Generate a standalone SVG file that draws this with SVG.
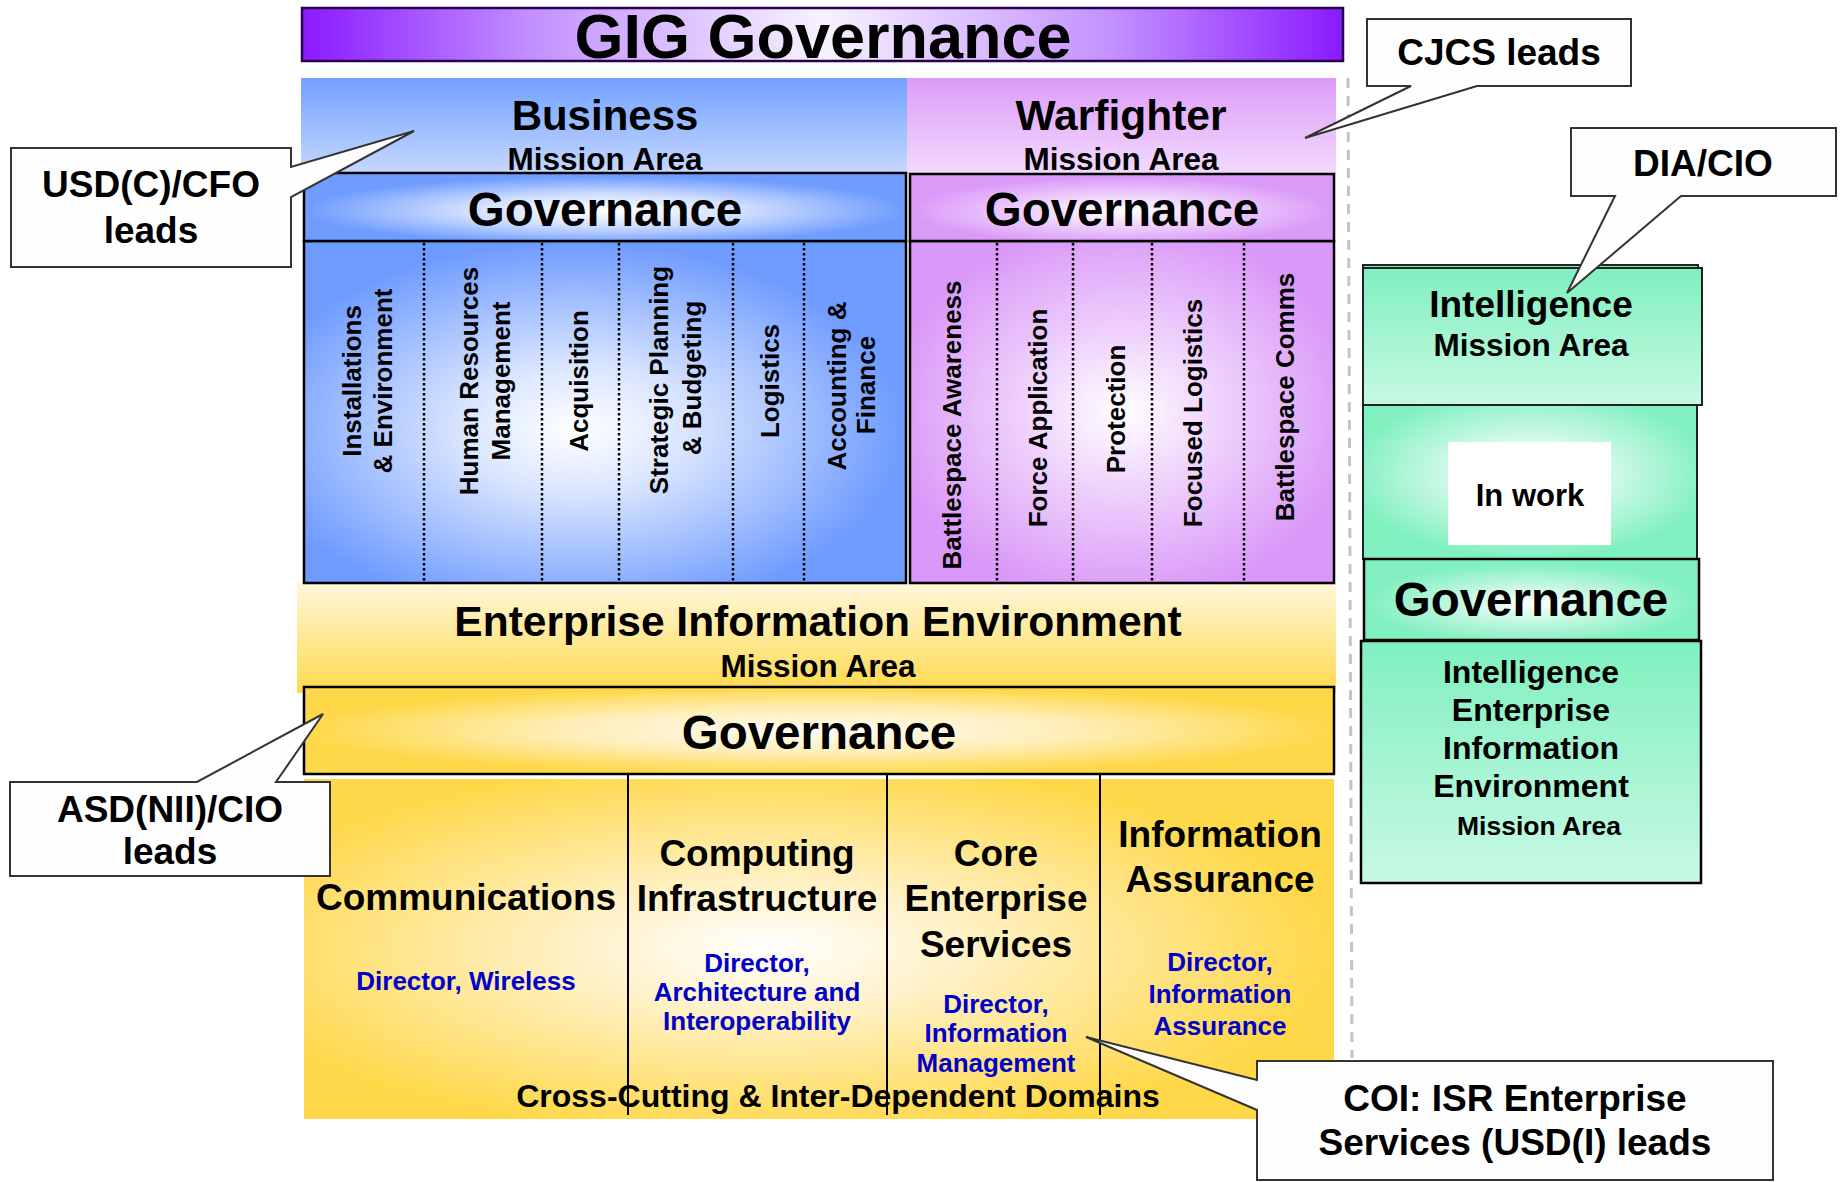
<svg xmlns="http://www.w3.org/2000/svg" width="1843" height="1182" viewBox="0 0 1843 1182">
<defs>
<style>
.t{font-family:"Liberation Sans",Arial,sans-serif;font-weight:bold;text-anchor:middle;fill:#000}
.col{font-family:"Liberation Sans",Arial,sans-serif;font-weight:bold;text-anchor:middle;fill:#000;font-size:26px;dominant-baseline:central}
.blue{fill:#0000c8;font-size:26px}
.box{stroke:#000;stroke-width:2.5}
.dot{stroke:#000;stroke-width:2.5;stroke-dasharray:2.5 2.5;fill:none}
.vline{stroke:#000;stroke-width:2;fill:none}
.callout{fill:#fefefe;stroke:#333;stroke-width:2}
</style>
<linearGradient id="gig" x1="0" y1="0" x2="1" y2="0">
<stop offset="0" stop-color="#8a1aff"/><stop offset="0.22" stop-color="#c290ff"/><stop offset="0.5" stop-color="#f7f2ff"/><stop offset="0.78" stop-color="#c290ff"/><stop offset="1" stop-color="#8a1aff"/>
</linearGradient>
<linearGradient id="bizMA" x1="0" y1="0" x2="0" y2="1"><stop offset="0" stop-color="#72a0ff"/><stop offset="1" stop-color="#c6d9ff"/></linearGradient>
<linearGradient id="wfMA" x1="0" y1="0" x2="0" y2="1"><stop offset="0" stop-color="#dc9cf9"/><stop offset="1" stop-color="#f3dafd"/></linearGradient>
<radialGradient id="bizGov" cx="0.5" cy="0.55" r="0.5"><stop offset="0" stop-color="#ffffff"/><stop offset="0.45" stop-color="#d2e0ff"/><stop offset="1" stop-color="#6f9cff"/></radialGradient>
<radialGradient id="bizCols" cx="0.45" cy="0.55" r="0.55"><stop offset="0" stop-color="#ffffff"/><stop offset="0.35" stop-color="#d8e4ff"/><stop offset="1" stop-color="#6e9bff"/></radialGradient>
<radialGradient id="wfGov" cx="0.5" cy="0.55" r="0.5"><stop offset="0" stop-color="#ffffff"/><stop offset="0.45" stop-color="#efd2fc"/><stop offset="1" stop-color="#da9af8"/></radialGradient>
<radialGradient id="wfCols" cx="0.5" cy="0.5" r="0.55"><stop offset="0" stop-color="#ffffff"/><stop offset="0.35" stop-color="#f1d9fc"/><stop offset="1" stop-color="#da98f8"/></radialGradient>
<linearGradient id="eieMA" x1="0" y1="0" x2="0" y2="1"><stop offset="0" stop-color="#fff7dc"/><stop offset="1" stop-color="#ffd94c"/></linearGradient>
<radialGradient id="eieGov" cx="0.5" cy="0.5" r="0.5"><stop offset="0" stop-color="#fffcf4"/><stop offset="0.5" stop-color="#ffeeb8"/><stop offset="1" stop-color="#ffd84a"/></radialGradient>
<radialGradient id="dom" cx="0.45" cy="0.5" r="0.55"><stop offset="0" stop-color="#ffffff"/><stop offset="0.35" stop-color="#fff1c6"/><stop offset="1" stop-color="#ffd84a"/></radialGradient>
<linearGradient id="intMA" x1="0" y1="0" x2="0" y2="1"><stop offset="0" stop-color="#7ff0c0"/><stop offset="1" stop-color="#c8f9e2"/></linearGradient>
<radialGradient id="inwork" cx="0.5" cy="0.45" r="0.55"><stop offset="0" stop-color="#ffffff"/><stop offset="0.4" stop-color="#d6faea"/><stop offset="1" stop-color="#80f0c0"/></radialGradient>
<radialGradient id="intGov" cx="0.5" cy="0.55" r="0.5"><stop offset="0" stop-color="#ffffff"/><stop offset="0.45" stop-color="#c4f7e0"/><stop offset="1" stop-color="#80f0c0"/></radialGradient>
<linearGradient id="ieie" x1="0" y1="0" x2="0" y2="1"><stop offset="0" stop-color="#80f0c0"/><stop offset="1" stop-color="#c8f9e3"/></linearGradient>
</defs>
<rect width="1843" height="1182" fill="#fff"/>

<g id="gig-governance">
<rect x="302" y="8" width="1041" height="53" fill="url(#gig)" stroke="#2a0050" stroke-width="2.5"/>
<text class="t" x="823" y="58" font-size="63">GIG Governance</text>
</g>

<g id="business-mission-area">
<rect x="301" y="78" width="606" height="96" fill="url(#bizMA)"/>
<text class="t" x="605" y="130" font-size="42">Business</text>
<text class="t" x="605" y="170" font-size="31.5">Mission Area</text>
</g>

<g id="warfighter-mission-area">
<rect x="907" y="78" width="429" height="96" fill="url(#wfMA)"/>
<text class="t" x="1121" y="130" font-size="42.5">Warfighter</text>
<text class="t" x="1121" y="170" font-size="31.5">Mission Area</text>
</g>

<g id="enterprise-information-environment">
<rect x="297" y="583" width="1039" height="110" fill="url(#eieMA)"/>
<text class="t" x="818" y="636" font-size="42.5">Enterprise Information Environment</text>
<text class="t" x="818" y="677" font-size="31.5">Mission Area</text>
</g>

<g id="business-governance">
<rect x="304" y="241" width="602" height="342" fill="url(#bizCols)" class="box"/>
<rect x="304" y="173" width="602" height="68" fill="url(#bizGov)" class="box"/>
<text class="t" x="605" y="226" font-size="47.5">Governance</text>
<g class="dots">
<line class="dot" x1="424" y1="243" x2="424" y2="583"/>
<line class="dot" x1="542" y1="243" x2="542" y2="583"/>
<line class="dot" x1="619" y1="243" x2="619" y2="583"/>
<line class="dot" x1="733" y1="243" x2="733" y2="583"/>
<line class="dot" x1="804" y1="243" x2="804" y2="583"/>
</g>
<text class="col" transform="translate(352,381) rotate(-90)">Installations</text>
<text class="col" transform="translate(383,381) rotate(-90)">&amp; Environment</text>
<text class="col" transform="translate(469,381) rotate(-90)">Human Resources</text>
<text class="col" transform="translate(501,381) rotate(-90)">Management</text>
<text class="col" transform="translate(579,381) rotate(-90)">Acquisition</text>
<text class="col" transform="translate(659,380) rotate(-90)">Strategic Planning</text>
<text class="col" transform="translate(692,378) rotate(-90)">&amp; Budgeting</text>
<text class="col" transform="translate(770,381) rotate(-90)">Logistics</text>
<text class="col" transform="translate(837,386) rotate(-90)">Accounting &amp;</text>
<text class="col" transform="translate(866,385) rotate(-90)">Finance</text>
</g>

<g id="warfighter-governance">
<rect x="910" y="241" width="424" height="342" fill="url(#wfCols)" class="box"/>
<rect x="910" y="174" width="424" height="67" fill="url(#wfGov)" class="box"/>
<text class="t" x="1122" y="226" font-size="47.5">Governance</text>
<line class="dot" x1="997" y1="243" x2="997" y2="583"/>
<line class="dot" x1="1073" y1="243" x2="1073" y2="583"/>
<line class="dot" x1="1152" y1="243" x2="1152" y2="583"/>
<line class="dot" x1="1244" y1="243" x2="1244" y2="583"/>
<text class="col" transform="translate(952,425) rotate(-90)">Battlespace Awareness</text>
<text class="col" transform="translate(1038,418) rotate(-90)">Force Application</text>
<text class="col" transform="translate(1116,409) rotate(-90)">Protection</text>
<text class="col" transform="translate(1193,413) rotate(-90)">Focused Logistics</text>
<text class="col" transform="translate(1285,397) rotate(-90)">Battlespace Comms</text>
</g>

<g id="eie-governance">
<rect x="304" y="687" width="1030" height="87" fill="url(#eieGov)" class="box"/>
<text class="t" x="819" y="749" font-size="47.5">Governance</text>
</g>

<g id="cross-cutting-domains">
<rect x="304" y="779" width="1030" height="340" fill="url(#dom)"/>
<line class="vline" x1="628" y1="774" x2="628" y2="1115"/>
<line class="vline" x1="887" y1="774" x2="887" y2="1115"/>
<line class="vline" x1="1100" y1="774" x2="1100" y2="1115"/>
<text class="t" x="466" y="910" font-size="37">Communications</text>
<text class="t blue" x="466" y="990">Director, Wireless</text>
<text class="t" x="757" y="866" font-size="37">Computing</text>
<text class="t" x="757" y="911" font-size="37">Infrastructure</text>
<text class="t blue" x="757" y="972">Director,</text>
<text class="t blue" x="757" y="1001">Architecture and</text>
<text class="t blue" x="757" y="1030">Interoperability</text>
<text class="t" x="996" y="866" font-size="37">Core</text>
<text class="t" x="996" y="911" font-size="37">Enterprise</text>
<text class="t" x="996" y="957" font-size="37">Services</text>
<text class="t blue" x="996" y="1013">Director,</text>
<text class="t blue" x="996" y="1042">Information</text>
<text class="t blue" x="996" y="1072">Management</text>
<text class="t" x="1220" y="847" font-size="37">Information</text>
<text class="t" x="1220" y="892" font-size="37">Assurance</text>
<text class="t blue" x="1220" y="971">Director,</text>
<text class="t blue" x="1220" y="1003">Information</text>
<text class="t blue" x="1220" y="1035">Assurance</text>
<text class="t" x="838" y="1107" font-size="32">Cross-Cutting &amp; Inter-Dependent Domains</text>
</g>

<g id="separator">
<line x1="1348" y1="78" x2="1352" y2="1058" stroke="#c4c4c4" stroke-width="3" stroke-dasharray="10 8"/>
</g>

<g id="intelligence-mission-area">
<rect x="1363" y="265" width="335" height="140" fill="#80f0c0" stroke="#222" stroke-width="2"/>
<rect x="1363" y="268" width="339" height="137" fill="url(#intMA)" stroke="#222" stroke-width="2"/>
<text class="t" x="1531" y="317" font-size="37">Intelligence</text>
<text class="t" x="1531" y="356" font-size="31.5">Mission Area</text>
</g>

<g id="intelligence-in-work">
<rect x="1363" y="405" width="334" height="154" fill="url(#inwork)" stroke="#222" stroke-width="2"/>
<rect x="1448" y="442" width="163" height="103" fill="#fff"/>
<text class="t" x="1530" y="506" font-size="31">In work</text>
</g>

<g id="intelligence-governance">
<rect x="1364" y="559" width="335" height="81" fill="url(#intGov)" class="box"/>
<text class="t" x="1531" y="616" font-size="47.5">Governance</text>
</g>

<g id="intelligence-eie">
<rect x="1361" y="641" width="340" height="242" fill="url(#ieie)" class="box"/>
<text class="t" x="1531" y="683" font-size="32">Intelligence</text>
<text class="t" x="1531" y="721" font-size="32">Enterprise</text>
<text class="t" x="1531" y="759" font-size="32">Information</text>
<text class="t" x="1531" y="797" font-size="32">Environment</text>
<text class="t" x="1539" y="835" font-size="26.5">Mission Area</text>
</g>

<g id="connectors"></g>

<g id="callout-usd">
<path class="callout" d="M11,148 H291 V167 L414,131 L291,197 V267 H11 Z"/>
<text class="t" x="151" y="197" font-size="37">USD(C)/CFO</text>
<text class="t" x="151" y="243" font-size="37">leads</text>
</g>

<g id="callout-cjcs">
<path class="callout" d="M1367,19 H1631 V86 H1477 L1305,138 L1411,86 H1367 Z"/>
<text class="t" x="1499" y="65" font-size="37">CJCS leads</text>
</g>

<g id="callout-dia">
<path class="callout" d="M1571,128 H1836 V196 H1681 L1567,293 L1615,196 H1571 Z"/>
<text class="t" x="1703" y="176" font-size="37">DIA/CIO</text>
</g>

<g id="callout-asd">
<path class="callout" d="M10,782 H197 L323,714 L276,782 H330 V876 H10 Z"/>
<text class="t" x="170" y="822" font-size="37">ASD(NII)/CIO</text>
<text class="t" x="170" y="864" font-size="37">leads</text>
</g>

<g id="callout-coi">
<path class="callout" d="M1257,1061 H1773 V1180 H1257 V1110 L1086,1037 L1257,1080 Z"/>
<text class="t" x="1515" y="1111" font-size="37">COI: ISR Enterprise</text>
<text class="t" x="1515" y="1155" font-size="37">Services (USD(I) leads</text>
</g>
</svg>
